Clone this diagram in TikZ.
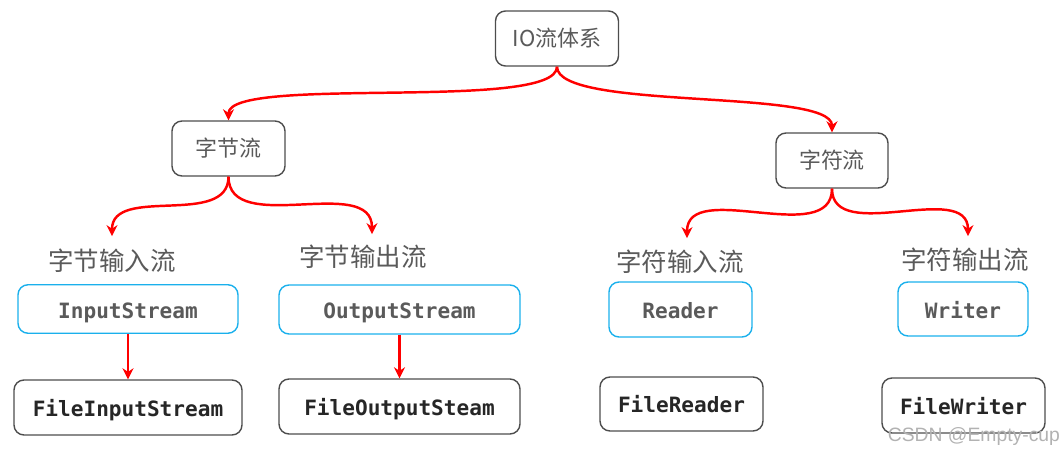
\documentclass[tikz,border=0pt]{standalone}
\usepackage{fontspec}
\setmonofont{DejaVu Sans Mono}
\newfontfamily\cjk{Noto Sans CJK SC}
\newfontfamily\markfont{Liberation Sans}
\usetikzlibrary{arrows.meta}
\definecolor{boxgray}{HTML}{4D4D4D}
\definecolor{boxblue}{HTML}{1AB0EC}
\definecolor{textgray}{HTML}{5A5A5A}

\begin{document}
\begin{tikzpicture}[
    catbox/.style={draw=boxgray, line width=0.8pt, rounded corners=0.2cm, inner sep=0pt,
      minimum height=1.1cm, text=textgray, font=\cjk\fontsize{12.5}{14}\selectfont},
    basebox/.style={draw=boxblue, line width=0.8pt, rounded corners=0.2cm, inner sep=0pt,
      text height=0.46cm, text depth=0.08cm, text=textgray, font=\ttfamily\bfseries\fontsize{12}{14}\selectfont},
    filebox/.style={draw=boxgray, line width=0.8pt, rounded corners=0.2cm, inner sep=0pt,
      minimum height=1.1cm, text height=0.44cm, text depth=0.08cm, text=black!85, font=\ttfamily\bfseries\fontsize{12}{14}\selectfont},
    kindlbl/.style={inner sep=1pt, text=textgray, font=\cjk\fontsize{14.5}{16}\selectfont},
    flow/.style={red, line width=1.4pt, -{Stealth[length=2.2mm,width=2.2mm]}}
  ]
        \useasboundingbox (0,0) rectangle (21.26,-9.04);

        % top
        \node [catbox, minimum width=2.46cm] (io) at (11.14,-0.77) {IO流体系};
        \node [catbox, minimum width=2.26cm] (bytes) at (4.57,-2.97) {字节流};
        \node [catbox, minimum width=2.24cm] (chars) at (16.64,-3.21) {字符流};

        % kinds
        \node [kindlbl] (bytesin) at (2.24,-5.22) {字节输入流};
        \node [kindlbl] (bytesout) at (7.26,-5.14) {字节输出流};
        \node [kindlbl] (charsin) at (13.6,-5.24) {字符输入流};
        \node [kindlbl] (charsout) at (19.3,-5.2) {字符输出流};

        % base classes
        \node [basebox, minimum width=4.4cm, minimum height=0.97cm] (instream) at (2.56,-6.18) {InputStream};
        \node [basebox, minimum width=4.82cm, minimum height=0.98cm] (outstream) at (7.99,-6.19) {OutputStream};
        \node [basebox, minimum width=2.86cm, minimum height=1.1cm] (reader) at (13.61,-6.19) {Reader};
        \node [basebox, minimum width=2.6cm, minimum height=1.08cm] (writer) at (19.26,-6.18) {Writer};

        % file classes
        \node [filebox, minimum width=4.56cm] (fileinstream) at (2.56,-8.15) {FileInputStream};
        \node [filebox, minimum width=4.82cm] (fileoutsteam) at (7.99,-8.13) {FileOutputSteam};
        \node [filebox, minimum width=3.26cm, minimum height=1.08cm] (filereader) at (13.63,-8.08) {FileReader};
        \node [filebox, minimum width=3.26cm] (filewriter) at (19.27,-8.11) {FileWriter};

        % connectors
        \draw [flow] (io.south) to[out=-90, in=90, looseness=0.35] (bytes.north);
        \draw [flow] (io.south) to[out=-90, in=90, looseness=0.4] (chars.north);
        \draw [flow] (bytes.south) to[out=-90, in=90] ([yshift=0.22cm]bytesin.north);
        \draw [flow] (bytes.south) to[out=-90, in=90] ([yshift=0.18cm, xshift=0.18cm]bytesout.north);
        \draw [flow] (chars.south) to[out=-90, in=90] ([yshift=0.2cm, xshift=0.14cm]charsin.north);
        \draw [flow] (chars.south) to[out=-90, in=90] ([yshift=0.2cm, xshift=0.06cm]charsout.north);
        \draw [flow] (instream) -- (fileinstream);
        \draw [flow] (outstream) -- (fileoutsteam);

        \node [anchor=west, inner sep=0pt, text=black!30, font=\markfont\fontsize{11}{13}\selectfont] (mark) at (17.75,-8.74) {CSDN @Empty-cup};
      \end{tikzpicture}
\end{document}
